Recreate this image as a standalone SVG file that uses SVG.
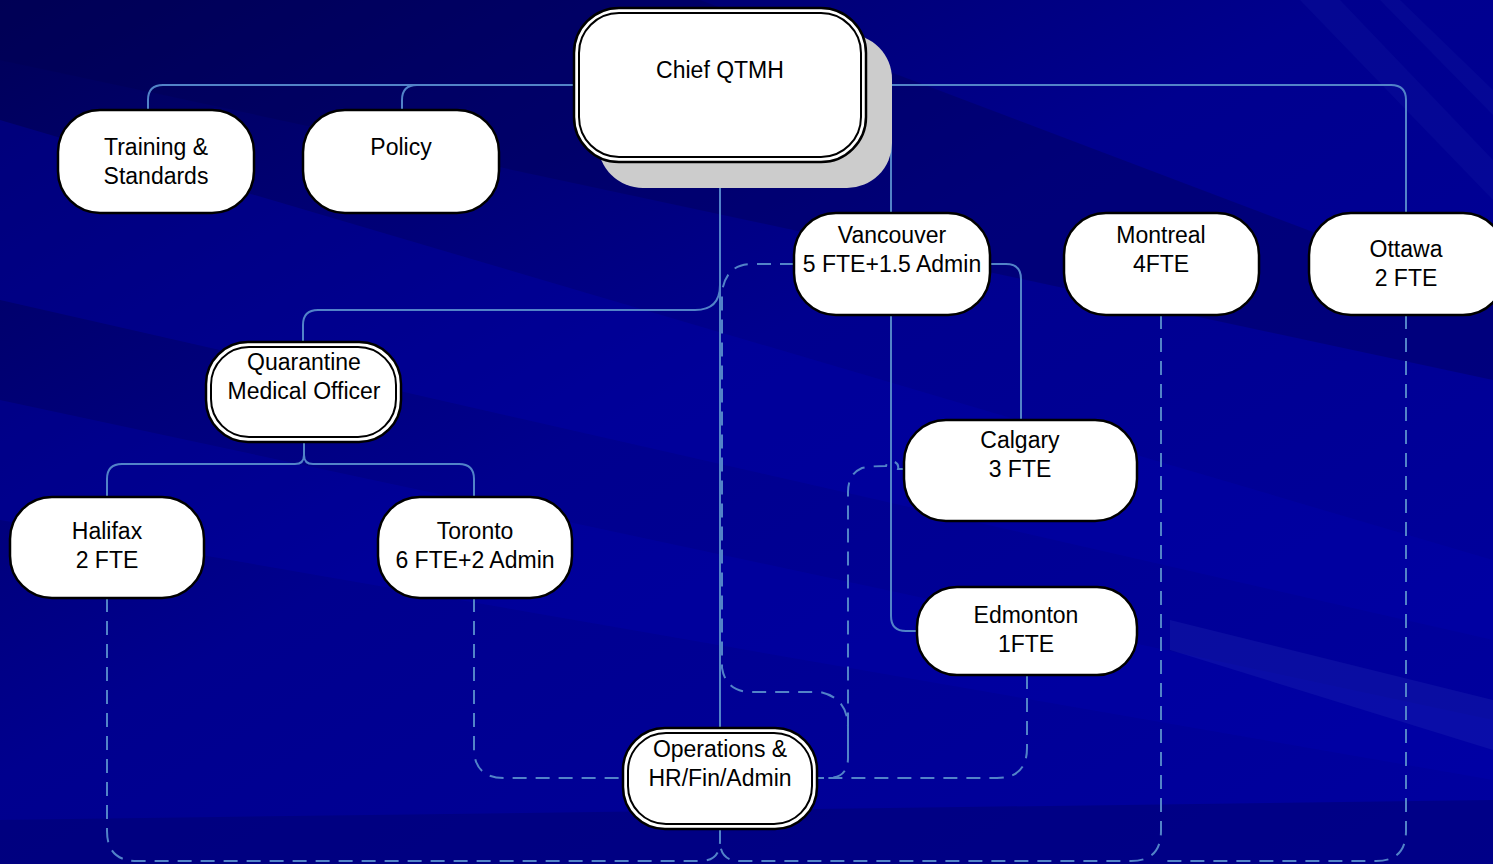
<svg xmlns="http://www.w3.org/2000/svg" width="1493" height="864" viewBox="0 0 1493 864">
<defs>
<linearGradient id="bg" x1="0" y1="0" x2="1" y2="1">
<stop offset="0" stop-color="#000058"/>
<stop offset="0.45" stop-color="#00008e"/>
<stop offset="1" stop-color="#0000a0"/>
</linearGradient>
<style>
.box{fill:#fff;stroke:#000;stroke-width:2.5}
.inner{fill:none;stroke:#000;stroke-width:2}
.t{font-family:"Liberation Sans",Arial,sans-serif;font-size:23px;fill:#000;text-anchor:middle}
.c{fill:none;stroke:#5283c8;stroke-width:2}
.d{fill:none;stroke:#5283c8;stroke-width:2;stroke-dasharray:14 9}
</style>
</defs>
<rect width="1493" height="864" fill="url(#bg)"/>
<g id="background-streaks">
<polygon points="0,120 1493,560 1493,640 0,300" fill="#0000b0" opacity="0.35"/>
<polygon points="0,0 700,0 1493,300 1493,380 0,60" fill="#000050" opacity="0.35"/>
<polygon points="0,400 1493,720 1493,780 0,520" fill="#0000b4" opacity="0.3"/>
<polygon points="1170,620 1493,700 1493,750 1170,650" fill="#3040c0" opacity="0.2"/>
<polygon points="0,820 1493,800 1493,864 0,864" fill="#000070" opacity="0.5"/>
<polygon points="1300,0 1340,0 1493,160 1493,200" fill="#2030b0" opacity="0.15"/>
<polygon points="1380,0 1400,0 1493,90 1493,115" fill="#2030b0" opacity="0.15"/>
</g>
<g id="connectors">
<path class="c" d="M574 85 H163 Q148 85 148 100 V110"/>
<path class="c" d="M417 85 Q402 85 402 100 V110"/>
<path class="c" d="M866 85 H1391 Q1406 85 1406 100 V213"/>
<path class="c" d="M876 85 Q891 85 891 100 V213"/>
<path class="c" d="M891 315 V616 Q891 631 906 631 H917"/>
<path class="c" d="M990 264 H1006 Q1021 264 1021 279 V420"/>
<path class="c" d="M720 162 V728"/>
<path class="c" d="M720 285 Q720 310 695 310 H318 Q303 310 303 325 V343"/>
<path class="c" d="M304 443 V455 Q304 464 295 464 H122 Q107 464 107 479 V497"/>
<path class="c" d="M304 455 Q304 464 313 464 H459 Q474 464 474 479 V497"/>
<path class="d" d="M794 264 H752 Q726 264 722 292 V668 Q726 692 752 692 H820 Q848 698 848 728 V758 Q848 778 828 778 H817"/>
<path class="d" d="M904 469 H898 A6 6 0 0 0 886 466 Q870 466 862 468 Q848 474 848 492 V758"/>
<path class="d" d="M1027 675 V748 Q1027 778 997 778 H828"/>
<path class="d" d="M474 598 V748 Q474 778 504 778 H623"/>
<path class="d" d="M107 598 V831 Q107 861 137 861 H700 Q720 861 720 841 V828"/>
<path class="d" d="M1161 315 V831 Q1161 861 1131 861 H740 Q720 861 720 841"/>
<path class="d" d="M1406 315 V831 Q1406 861 1376 861 H1161"/>
</g>
<g id="chief">
<rect x="598" y="34" width="294" height="154" rx="45" fill="#cccccc"/>
<rect class="box" x="574" y="8" width="292" height="154" rx="45"/>
<rect class="inner" x="579" y="13" width="282" height="144" rx="40"/>
<text class="t" x="720" y="78">Chief QTMH</text>
</g>
<g id="training">
<rect class="box" x="58" y="110" width="196" height="103" rx="42"/>
<text class="t" x="156" y="155">Training &amp;</text>
<text class="t" x="156" y="184">Standards</text>
</g>
<g id="policy">
<rect class="box" x="303" y="110" width="196" height="103" rx="42"/>
<text class="t" x="401" y="155">Policy</text>
</g>
<g id="vancouver">
<rect class="box" x="794" y="213" width="196" height="102" rx="42"/>
<text class="t" x="892" y="243">Vancouver</text>
<text class="t" x="892" y="272">5 FTE+1.5 Admin</text>
</g>
<g id="montreal">
<rect class="box" x="1064" y="213" width="195" height="102" rx="42"/>
<text class="t" x="1161" y="243">Montreal</text>
<text class="t" x="1161" y="272">4FTE</text>
</g>
<g id="ottawa">
<rect class="box" x="1309" y="213" width="196" height="102" rx="42"/>
<text class="t" x="1406" y="257">Ottawa</text>
<text class="t" x="1406" y="286">2 FTE</text>
</g>
<g id="qmo">
<rect class="box" x="206" y="342" width="195" height="100" rx="42"/>
<rect class="inner" x="211" y="347" width="185" height="90" rx="38"/>
<text class="t" x="304" y="370">Quarantine</text>
<text class="t" x="304" y="399">Medical Officer</text>
</g>
<g id="halifax">
<rect class="box" x="10" y="497" width="194" height="101" rx="42"/>
<text class="t" x="107" y="539">Halifax</text>
<text class="t" x="107" y="568">2 FTE</text>
</g>
<g id="toronto">
<rect class="box" x="378" y="497" width="194" height="101" rx="42"/>
<text class="t" x="475" y="539">Toronto</text>
<text class="t" x="475" y="568">6 FTE+2 Admin</text>
</g>
<g id="calgary">
<rect class="box" x="904" y="420" width="233" height="101" rx="42"/>
<text class="t" x="1020" y="448">Calgary</text>
<text class="t" x="1020" y="477">3 FTE</text>
</g>
<g id="edmonton">
<rect class="box" x="917" y="587" width="220" height="88" rx="40"/>
<text class="t" x="1026" y="623">Edmonton</text>
<text class="t" x="1026" y="652">1FTE</text>
</g>
<g id="operations">
<rect class="box" x="623" y="728" width="194" height="101" rx="42"/>
<rect class="inner" x="628" y="733" width="184" height="91" rx="38"/>
<text class="t" x="720" y="757">Operations &amp;</text>
<text class="t" x="720" y="786">HR/Fin/Admin</text>
</g>
</svg>
